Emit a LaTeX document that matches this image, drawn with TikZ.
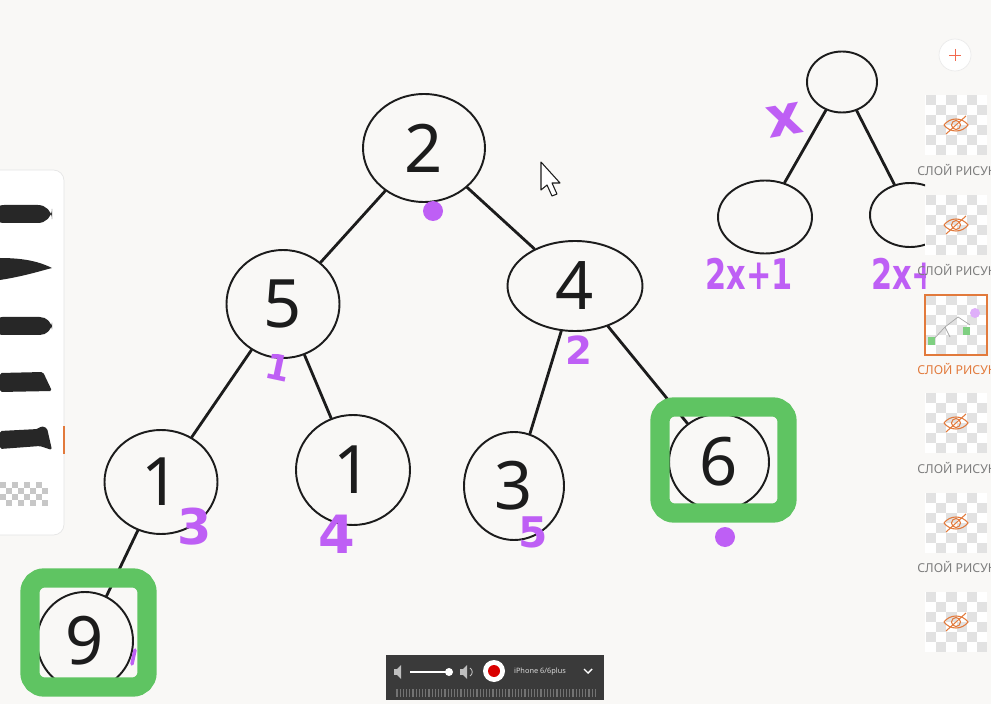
\documentclass[tikz,border=0pt]{standalone}
\usepackage{fontspec}
\newfontfamily\uifont{Noto Sans}
\newfontfamily\markfont{DejaVu Sans}
\usetikzlibrary{shapes.geometric}
\definecolor{ink}{RGB}{28,28,28}
\definecolor{pmark}{RGB}{190,95,245}
\definecolor{hlgreen}{RGB}{95,196,98}
\definecolor{paper}{RGB}{249,248,246}
\definecolor{uiorange}{RGB}{226,122,60}
\definecolor{uigrey}{RGB}{125,125,125}
\definecolor{chk}{RGB}{226,226,226}
\definecolor{bar}{RGB}{58,58,58}

\begin{document}
\begin{tikzpicture}[
        x=0.2mm, y=-0.2mm,
        keynode/.style={draw=ink, ellipse, line width=1.1pt, inner sep=0pt, text=ink,
            font={\uifont\fontsize{38}{40}\selectfont}},
        edge/.style={draw=ink, line width=1.6pt, line cap=round},
        idx/.style={text=pmark, inner sep=0pt, font={\markfont\bfseries\fontsize{#1}{#1}\selectfont}},
        idx/.default=24,
        formula/.style={idx=24, xscale=0.72, transform shape},
        blob/.style={circle, fill=pmark, inner sep=0pt, minimum size=4mm},
        hl/.style={draw=hlgreen, line width=11pt, rounded corners=8pt},
        brush/.style={fill=ink!95},
        eyeic/.style={draw=uiorange, line width=0.6pt},
        layername/.style={anchor=west, inner sep=0pt, font={\uifont\fontsize{7}{8}\selectfont}}
    ]
    % page
    \fill[paper] (0,0) rectangle (991,704);
    \useasboundingbox (0,0) rectangle (991,704);

    % heap as a tree
    \foreach \name/\val/\x/\y/\w/\h in {
        n0/2/424/148/122/108,
        n1/5/283/304/113/108,
        n2/4/575/286/135/90,
        n3/1/161/482/113/104,
        n4/1/353/470/114/110,
        n5/3/514/486/100/108,
        n6/6/719/462/100/96,
        n7/9/85/641/96/98
    } {
        \node[keynode, minimum width=\w*0.2mm, minimum height=\h*0.2mm] (\name) at (\x,\y) {\val};
    }
    \foreach \a/\b in {n0/n1, n0/n2, n1/n3, n1/n4, n2/n5, n2/n6, n3/n7}
        \draw[edge] (\a) -- (\b);

    % array positions
    \node[blob] (i0) at (433,211) {};
    \node[idx=20, rotate=-12] (i1) at (278,368) {1};
    \node[idx=22] (i2) at (579,350) {2};
    \node[idx=28] (i3) at (195,527) {3};
    \node[idx=30] (i4) at (337,534) {4};
    \node[idx=24] (i5) at (533,532) {5};
    \node[blob] (i6) at (725,537) {};
    \draw[pmark, line width=2pt, line cap=round] (135,650) -- (132,664);

    % found elements
    \draw[hl] (30,578) rectangle (147,687);
    \draw[hl] (660,407) rectangle (787,513);

    % index rule
    \node[keynode, minimum width=14mm, minimum height=12.2mm] (p) at (842,82) {};
    \node[keynode, minimum width=18.8mm, minimum height=14.6mm] (lc) at (765,217) {};
    \begin{scope}
        \clip (0,0) rectangle (925,704);
        \node[keynode, minimum width=16mm, minimum height=12.8mm] (rc) at (910,215) {};
        \node[formula, anchor=west] (ir) at (871,274) {2x+2};
    \end{scope}
    \draw[edge] (p) -- (lc);
    \draw[edge] (p) -- (rc);
    \node[idx=32, rotate=10] (ix) at (785,120) {x};
    \node[formula] (il) at (749,274) {2x+1};

    % cursor
    \draw[ink, fill=white, line width=0.6pt, line join=round]
        (541,162) -- (541,190) -- (547,185) -- (552,196) -- (557,194) -- (552,183) -- (560,183) -- cycle;

    % brush panel
    \filldraw[fill=white, draw=black!10, rounded corners=6pt] (-20,170) rectangle (64,535);
    \fill[brush, rounded corners=8pt] (-10,205) rectangle (52,223);
    \fill[brush] (0,258) .. controls (25,258) and (40,262) .. (52,268) .. controls (40,271) and (25,276) .. (0,280) -- cycle;
    \fill[brush, rounded corners=7pt] (-10,317) rectangle (52,335);
    \fill[brush, rounded corners=1pt] (0,373) -- (43,372) -- (52,391) -- (0,392) -- cycle;
    \fill[brush, rounded corners=1pt] (0,431) -- (38,429) -- (41,426) -- (47,428) -- (52,450) -- (40,446) -- (0,449) -- cycle;
    \foreach \i in {0,...,7} {
        \foreach \j in {0,...,3} {
            \pgfmathtruncatemacro\odd{mod(\i+\j,2)}
            \ifnum\odd=0 \fill[black!22] (\i*6,482+\j*6) rectangle (\i*6+6,488+\j*6); \fi
        }
    }
    \draw[uiorange, line width=0.8pt] (64,426) -- (64,454);

    % layer panel
    \node[circle, fill=white, draw=black!8, minimum size=6.4mm] (add) at (955,55) {};
    \draw[red!45!uiorange!80, line width=0.5pt] (949,55) -- (961,55) (955,49) -- (955,61);
    \foreach \ty in {95,195,295,393,493,592} {
        \fill[white] (925,\ty) rectangle (987,\ty+60);
        \foreach \i in {0,...,5} {
            \foreach \j in {0,...,5} {
                \pgfmathtruncatemacro\odd{mod(\i+\j,2)}
                \ifnum\odd=0 \fill[chk] (926+\i*10.2,\ty+\j*10) rectangle (926+\i*10.2+10.2,\ty+\j*10+10); \fi
            }
        }
        \ifnum\ty=295
            \draw[uiorange, line width=1.2pt] (925,\ty) rectangle (987,\ty+60);
            \draw[black!35, line width=0.4pt] (932,\ty+46) -- (945,\ty+32) -- (958,\ty+22) -- (970,\ty+30) (945,\ty+32) -- (950,\ty+42);
            \fill[hlgreen!80] (928,\ty+42) rectangle (935,\ty+50);
            \fill[hlgreen!80] (963,\ty+32) rectangle (970,\ty+40);
            \fill[pmark!50] (975,\ty+18) circle (1mm);
        \else
            \draw[eyeic] (944,\ty+30) .. controls (950,\ty+22) and (962,\ty+22) .. (968,\ty+30)
                .. controls (962,\ty+38) and (950,\ty+38) .. (944,\ty+30);
            \draw[eyeic] (956,\ty+30) circle (0.9mm);
            \draw[eyeic] (946,\ty+39) -- (966,\ty+21);
        \fi
    }
    \foreach \ly/\lc in {170/uigrey, 270/uigrey, 369/uiorange, 468/uigrey, 567/uigrey}
        \node[layername, text=\lc] (layer\ly) at (917,\ly) {СЛОЙ РИСУНКА};

    % recorder bar
    \fill[bar] (386,655) rectangle (604,700);
    \fill[black!25] (394,669) rectangle (397,675);
    \fill[black!25] (397,669) -- (401,665) -- (401,679) -- (397,675) -- cycle;
    \draw[white, line width=0.8pt] (410,672) -- (449,672);
    \node[circle, fill=white, inner sep=0pt, minimum size=1.6mm] (knob) at (449,672) {};
    \fill[black!25] (460,669) rectangle (463,675);
    \fill[black!25] (463,669) -- (467,665) -- (467,679) -- (463,675) -- cycle;
    \draw[black!25, line width=0.5pt] (470,668) .. controls (473,670) and (473,674) .. (470,676);
    \node[circle, fill=white, inner sep=0pt, minimum size=4.4mm] (rec) at (494,671) {};
    \node[circle, fill=red!85!black, inner sep=0pt, minimum size=2.4mm] at (rec) {};
    \node[text=black!15, inner sep=0pt, font={\uifont\fontsize{4.2}{5}\selectfont}] (dev) at (540,672) {iPhone 6/6plus};
    \draw[white, line width=0.8pt] (584,669) -- (588,673) -- (592,669);
    \foreach \i in {0,...,62}
        \draw[black!55, line width=0.6pt] (397+\i*3.2,689) -- (397+\i*3.2,697);
\end{tikzpicture}
\end{document}
